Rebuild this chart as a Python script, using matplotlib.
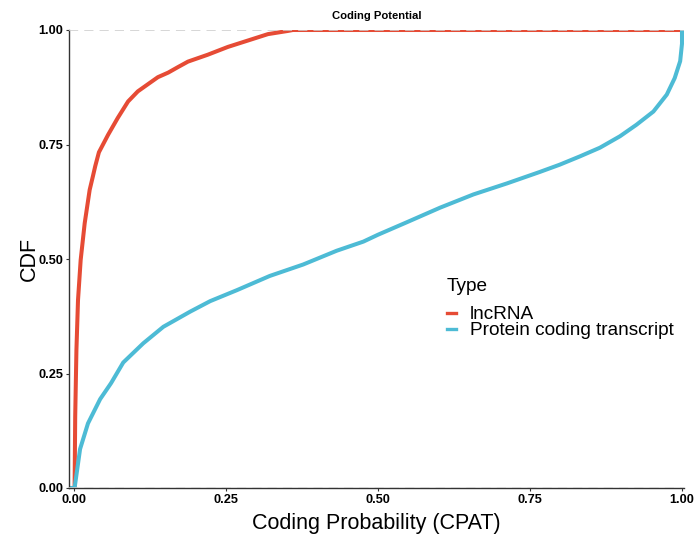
import numpy as np
import matplotlib
matplotlib.use("Agg")
import matplotlib.pyplot as plt
from matplotlib.lines import Line2D

plt.rcParams['font.family'] = ['Liberation Sans', 'DejaVu Sans']

# ECDF curves (coding probability -> cumulative fraction)
lnc_x = [-0.02, 0.001, 0.002, 0.004, 0.0066, 0.011, 0.0176, 0.0258, 0.031, 0.035,
         0.041, 0.056, 0.072, 0.089, 0.105, 0.122, 0.138, 0.155, 0.171,
         0.1875, 0.220, 0.253, 0.286, 0.319, 0.352, 0.36, 1.02]
lnc_y = [0.0, 0.0, 0.156, 0.301, 0.41, 0.498, 0.578, 0.651, 0.680, 0.703,
         0.733, 0.771, 0.808, 0.844, 0.866, 0.882, 0.897, 0.907, 0.919,
         0.931, 0.946, 0.963, 0.977, 0.991, 0.998, 1.0, 1.0]

pc_x = [-0.02, 0.001, 0.010, 0.023, 0.043, 0.061, 0.081, 0.114, 0.147,
        0.191, 0.224, 0.268, 0.322, 0.377, 0.432, 0.476, 0.50, 0.547, 0.602,
        0.657, 0.712, 0.766, 0.799, 0.832, 0.865, 0.898, 0.925, 0.953, 0.975,
        0.988, 0.997, 1.0, 1.0, 1.02]
pc_y = [0.0, 0.0, 0.085, 0.141, 0.194, 0.229, 0.274, 0.316, 0.352,
        0.385, 0.408, 0.432, 0.463, 0.488, 0.518, 0.538, 0.553, 0.580, 0.612,
        0.641, 0.665, 0.690, 0.706, 0.724, 0.743, 0.768, 0.793, 0.822, 0.859,
        0.895, 0.932, 0.97, 1.0, 1.0]

series_names = ["lncRNA", "Protein coding transcript"]
series_colors = ["#E64B35", "#4DBBD5"]
ticks = [0.0, 0.25, 0.5, 0.75, 1.0]
tick_labels = ["0.00", "0.25", "0.50", "0.75", "1.00"]

fig = plt.figure(figsize=(6.95, 5.36), dpi=100)
ax = fig.add_axes([69 / 695, 1 - 488 / 536, (684 - 69) / 695, (488 - 30) / 536])

ax.plot(lnc_x, lnc_y, color=series_colors[0], lw=2.9, zorder=2)
ax.plot(pc_x, pc_y, color=series_colors[1], lw=2.9, zorder=2)
for yv in (0.0, 1.0):
    ax.axhline(yv, color='#cccccc', lw=1.1, ls=(0, (6, 4)), zorder=3)

ax.set_xlim(-0.0082, 1.0033)
ax.set_ylim(0, 1)
ax.set_xticks(ticks)
ax.set_xticklabels(tick_labels)
ax.set_yticks(ticks)
ax.set_yticklabels(tick_labels)

for side in ('top', 'right'):
    ax.spines[side].set_visible(False)
for side in ('left', 'bottom'):
    ax.spines[side].set_color('#333333')
    ax.spines[side].set_linewidth(1.0)
ax.tick_params(axis='both', length=2.2, width=0.8, color='#333333', pad=2,
               labelsize=9.2, labelcolor='black')
for lab in ax.get_xticklabels() + ax.get_yticklabels():
    lab.set_fontweight('bold')

ax.set_title("Coding Potential", fontsize=8.1, fontweight='bold', pad=8)
ax.set_xlabel("Coding Probability (CPAT)", fontsize=15.5, labelpad=5)
ax.set_ylabel("CDF", fontsize=15.5, labelpad=-1)

handles = [Line2D([], [], color=c, lw=2.4) for c in series_colors]
leg = ax.legend(handles, series_names, title="Type", loc='upper left',
                bbox_to_anchor=(447 / 695, 1 - 278 / 536), bbox_transform=fig.transFigure,
                frameon=False, fontsize=13.7, title_fontsize=13.7,
                handlelength=0.45, handletextpad=0.75, labelspacing=-0.08,
                borderpad=0, borderaxespad=0, alignment='left')
# extra gap between the legend title and its entries
leg._legend_box.sep = 8

fig.savefig("out.png", dpi=100)
